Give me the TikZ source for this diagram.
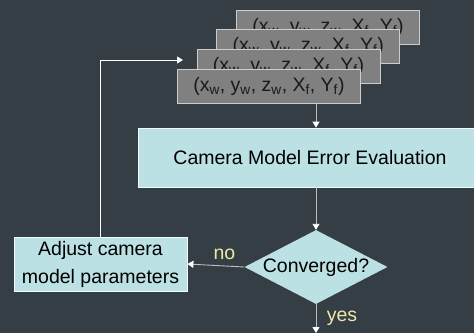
\documentclass[tikz,border=0pt]{standalone}
\usepackage{fontspec}
\setmainfont{Liberation Sans}
\usetikzlibrary{shapes.geometric,arrows.meta}
\definecolor{bg}{RGB}{53,62,69}
\definecolor{boxfill}{RGB}{187,225,228}
\definecolor{cardfill}{RGB}{128,128,128}
\definecolor{lblcol}{RGB}{237,232,168}
\newcommand{\meas}{\raisebox{-2pt}{(x\textsubscript{w}, y\textsubscript{w}, z\textsubscript{w}, X\textsubscript{f}, Y\textsubscript{f})}}

\begin{document}
\begin{tikzpicture}[x=1pt, y=1pt,
    font=\fontsize{19.5}{28}\selectfont,
    card/.style={draw=gray!40, fill=cardfill, line width=0.8pt, minimum width=183pt, minimum height=34pt, inner sep=0pt, text=black!90},
    procbox/.style={draw=white!80!boxfill, fill=boxfill, line width=0.8pt, inner sep=0pt, align=center},
    decide/.style={diamond, fill=boxfill, inner sep=0pt, minimum width=143pt, minimum height=74pt, aspect=1.93},
    arr/.style={-{Triangle[length=6pt,width=7pt,color=white]}, line width=0.9pt, draw=gray!50},
    lbl/.style={text=lblcol}]
      \fill[bg] (0,0) rectangle (474,333);
      \useasboundingbox (0,0) rectangle (474,333);
      \foreach \i in {0,...,3}
        \node[card] (card\i) at ({328-19.7*\i}, {306-19.8*\i}) {\meas};
      \node[procbox, minimum width=344pt, minimum height=59pt] (eval) at (310, 175.5) {Camera Model Error Evaluation};
      \node[decide] (dia) at (316, 66) {Converged?};
      \node[procbox, minimum width=173pt, minimum height=54pt] (adjust) at (100.5, 69) {Adjust camera\\model parameters};
      \coordinate (fbend) at (183, 273);
      \coordinate (out) at (316, 0);
      \draw[arr] (card3.south -| dia.north) -- (eval.north -| dia.north);
      \draw[arr] (eval.south -| dia.north) -- (dia.north);
      \draw[arr] (dia.west) -- node[lbl, above=2pt, pos=0.35] {no} (adjust.east);
      \draw[arr] (dia.south) -- node[lbl, right=7pt] {yes} (out);
      \draw[arr, draw=white] (adjust.north) |- (fbend);
    \end{tikzpicture}
\end{document}
